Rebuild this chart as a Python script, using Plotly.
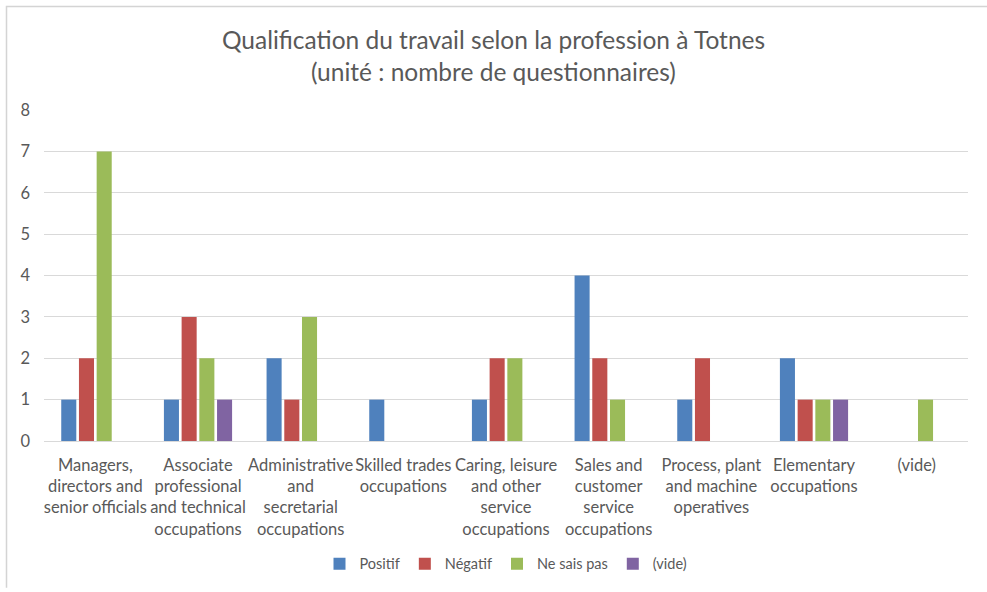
import plotly.graph_objects as go

categories = [
    "Managers,<br>directors and<br>senior officials",
    "Associate<br>professional<br>and technical<br>occupations",
    "Administrative<br>and<br>secretarial<br>occupations",
    "Skilled trades<br>occupations",
    "Caring, leisure<br>and other<br>service<br>occupations",
    "Sales and<br>customer<br>service<br>occupations",
    "Process, plant<br>and machine<br>operatives",
    "Elementary<br>occupations",
    "(vide)",
]
positif = [1, 1, 2, 1, 1, 4, 1, 2, None]
negatif = [2, 3, 1, None, 2, 2, 2, 1, None]
ne_sais_pas = [7, 2, 3, None, 2, 1, None, 1, 1]
vide = [None, 1, None, None, None, None, None, 1, None]

series = [
    ("Positif", positif, "#4F81BD"),
    ("Négatif", negatif, "#C0504D"),
    ("Ne sais pas", ne_sais_pas, "#9BBB59"),
    ("(vide)", vide, "#8064A2"),
]

FONT = "Lato"
TXT = "#595959"

fig = go.Figure()
for name, vals, col in series:
    fig.add_trace(go.Bar(x=categories, y=vals, name=name, marker_color=col,
                         marker_line_width=0))

W, H = 987, 592
L, R, T, B = 44, 19, 110, 148
pw, ph = W - L - R, H - T - B

def px_x(p):
    return (p - L) / pw

def px_y(p):
    return (H - B - p) / ph

frame_path = "M {x0},{y1} L {x0},{y0} L {x1},{y0}".format(
    x0=px_x(6.5), x1=px_x(987), y0=px_y(5.5), y1=px_y(592))

fig.update_layout(
    width=W, height=H,
    margin=dict(l=L, r=R, t=T, b=B),
    paper_bgcolor="white", plot_bgcolor="white",
    barmode="group", bargap=0.31, bargroupgap=0.15,
    font=dict(family=FONT, color=TXT, size=16.5),
    title=dict(
        text="Qualification du travail selon la profession à Totnes<br>(unité : nombre de questionnaires)",
        x=0.5, xanchor="center", y=1 - 49 / H, yanchor="middle",
        font=dict(family=FONT, size=24.5, color=TXT),
    ),
    legend=dict(orientation="h", x=0.5, xanchor="center", y=px_y(568), yanchor="middle",
                font=dict(size=14.5, color=TXT), itemwidth=30, traceorder="normal",
                itemclick=False),
    showlegend=True,
    xaxis=dict(showgrid=False, showline=False, ticks="", tickfont=dict(size=16.5, color=TXT),
               tickangle=0, ticklabelstandoff=12),
    yaxis=dict(range=[0, 8], dtick=1, showgrid=True, gridcolor="#D9D9D9", gridwidth=1,
               zeroline=True, zerolinecolor="#D9D9D9", zerolinewidth=1, showline=False,
               ticks="", tickfont=dict(size=16.5, color=TXT), ticklabelstandoff=13),
    shapes=[
        dict(type="path", xref="paper", yref="paper", path=frame_path,
             line=dict(color="#D4D4D4", width=1.5)),
    ],
)

fig.write_html("out.html", config={"displayModeBar": False},
               post_script="document.body.style.margin='0';")
